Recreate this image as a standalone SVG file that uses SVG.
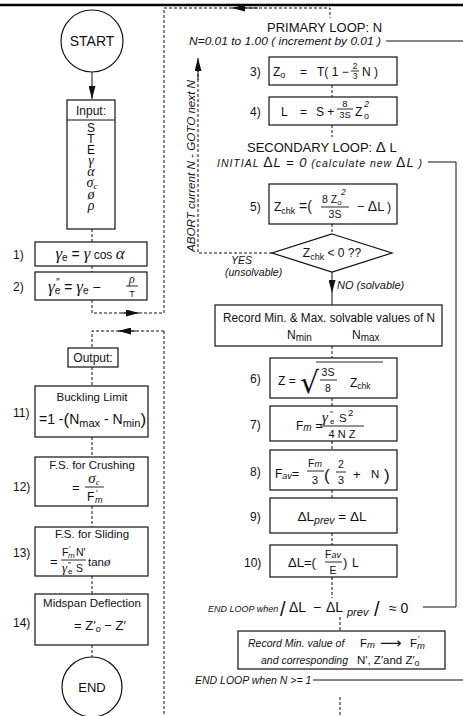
<svg xmlns="http://www.w3.org/2000/svg" width="463" height="716" viewBox="0 0 463 716">
<defs>
<marker id="ah" markerUnits="userSpaceOnUse" markerWidth="14" markerHeight="7" refX="13" refY="3.5" orient="auto">
<path d="M0,0 L13,3.5 L0,7 Z" fill="#111"/>
</marker>
<style>
.t{font-family:"Liberation Sans",Arial,sans-serif;fill:#111}
.i{font-style:italic}
.g{font-family:"Liberation Serif","DejaVu Serif",serif;font-style:italic;fill:#111}
.dj{font-family:"DejaVu Sans",sans-serif;fill:#111}
.m{text-anchor:middle}
.box{fill:#fff;stroke:#111;stroke-width:1.2}
.dl{fill:none;stroke:#111;stroke-width:1;stroke-dasharray:3 2}
.ln{fill:none;stroke:#111;stroke-width:1}
.fr{stroke:#111;stroke-width:0.9}
</style>
</defs>
<rect width="463" height="716" fill="#fff"/>
<line x1="0" y1="5" x2="463" y2="5" stroke="#000" stroke-width="2.5"/>

<g id="connectors">
<line class="ln" x1="92" y1="72" x2="92" y2="99" marker-end="url(#ah)"/>
<path class="dl" d="M92,229 V242"/>
<path class="dl" d="M92,266 V272"/>
<path class="dl" d="M92,300 V313 H164"/>
<line class="ln" x1="122" y1="313" x2="139" y2="313" marker-end="url(#ah)"/>
<path class="dl" d="M164,331 H92 V348"/>
<line class="ln" x1="136" y1="331" x2="118" y2="331" marker-end="url(#ah)"/>
<path class="dl" d="M92,367 V386"/>
<path class="dl" d="M92,437 V457"/>
<path class="dl" d="M92,506 V527"/>
<path class="dl" d="M92,576 V594"/>
<path class="dl" d="M92,645 V657"/>
<path class="dl" d="M164,313 V8 H330 V18"/>
<line class="ln" x1="258" y1="8" x2="232" y2="8" marker-end="url(#ah)"/>
<path class="dl" d="M164,331 V716"/>
<line class="ln" x1="386" y1="41" x2="463" y2="41"/>
<path class="dl" d="M332,85 V97"/>
<path class="dl" d="M332,125 V137"/>
<path class="ln" d="M428,162 H456 V607 H423"/>
<path class="dl" d="M332,224 V234"/>
<path class="dl" d="M272,253 H198 V64"/>
<line class="ln" x1="198" y1="80" x2="198" y2="58" marker-end="url(#ah)"/>
<text class="t i" font-size="11" transform="translate(195,252) rotate(-90)" textLength="172" lengthAdjust="spacingAndGlyphs">ABORT current N - GOTO next N</text>
<text class="t i" x="231" y="264" font-size="10.5">YES</text>
<text class="t i" x="225" y="276" font-size="10.5">(unsolvable)</text>
<line class="ln" x1="332" y1="272" x2="332" y2="293" marker-end="url(#ah)"/>
<line class="ln" x1="332" y1="293" x2="332" y2="305"/>
<text class="t i" x="337" y="289" font-size="11">NO (solvable)</text>
<path class="dl" d="M332,346 V358"/>
<path class="dl" d="M332,398 V406"/>
<path class="dl" d="M332,441 V450"/>
<path class="dl" d="M332,490 V498"/>
<path class="dl" d="M332,533 V545"/>
<path class="dl" d="M332,577 V598"/>
<path class="dl" d="M340,617 V631"/>
<line class="ln" x1="313" y1="680" x2="463" y2="680"/>
<path class="dl" d="M340,697 V716"/>
</g>

<g id="start">
<circle class="box" cx="92" cy="41" r="31"/>
<text class="t m" x="92" y="46" font-size="14">START</text>
</g>

<g id="input">
<rect class="box" x="67" y="100" width="48" height="129"/>
<line class="ln" x1="67" y1="120" x2="115" y2="120"/>
<text class="t m" x="91" y="115" font-size="12">Input:</text>
<text class="t m" x="91" y="132" font-size="12">S</text>
<text class="t m" x="91" y="143" font-size="12">T</text>
<text class="t m" x="91" y="154" font-size="12">E</text>
<text class="g m" x="91" y="165" font-size="14">γ</text>
<text class="g m" x="91" y="176" font-size="14">α</text>
<text class="g m" x="92" y="187" font-size="14">σ<tspan font-size="9" dy="2">c</tspan></text>
<text class="g m" x="91" y="199" font-size="14">ø</text>
<text class="g m" x="91" y="210" font-size="14">ρ</text>
</g>

<g id="step1">
<rect class="box" x="35" y="242" width="112" height="24"/>
<text class="t" x="13" y="259" font-size="12">1)</text>
<text class="t m" x="90" y="259" font-size="14"><tspan class="g" font-size="17">γ</tspan><tspan font-size="10" dy="2">e</tspan><tspan dy="-2"> = </tspan><tspan class="g" font-size="17">γ</tspan><tspan font-size="12"> cos </tspan><tspan class="g" font-size="17">α</tspan></text>
</g>

<g id="step2">
<rect class="box" x="35" y="272" width="112" height="28"/>
<text class="t" x="13" y="291" font-size="12">2)</text>
<text class="t" x="48" y="292" font-size="14"><tspan class="g" font-size="17">γ</tspan><tspan font-size="10" dy="2">e</tspan><tspan dy="-2"> = </tspan><tspan class="g" font-size="17">γ</tspan><tspan font-size="10" dy="2">e</tspan><tspan dy="-2">  − </tspan></text>
<text class="t" x="56" y="286" font-size="10">″</text>
<text class="g m" x="132" y="283" font-size="12">ρ</text>
<line class="fr" x1="126" y1="286" x2="138" y2="286"/>
<text class="t m" x="132" y="297" font-size="9">T</text>
</g>

<g id="output">
<rect class="box" x="68" y="348" width="50" height="19"/>
<text class="t m" x="93" y="362" font-size="12">Output:</text>
</g>

<g id="step11">
<rect class="box" x="35" y="386" width="113" height="51"/>
<text class="t" x="13" y="417" font-size="12">11)</text>
<text class="t m" x="92" y="401" font-size="11.5">Buckling Limit</text>
<text class="t" x="39" y="424" font-size="14">=1 -<tspan font-size="17" dy="1">(</tspan><tspan dy="-1">N</tspan><tspan font-size="11" dy="3">max</tspan><tspan dy="-3"> - N</tspan><tspan font-size="11" dy="3">min</tspan><tspan font-size="17" dy="-2">)</tspan></text>
</g>

<g id="step12">
<rect class="box" x="35" y="457" width="113" height="49"/>
<text class="t" x="13" y="491" font-size="12">12)</text>
<text class="t m" x="92" y="469" font-size="11.5">F.S. for Crushing</text>
<text class="t" x="72" y="492" font-size="13">=</text>
<text class="g m" x="94" y="483" font-size="15">σ<tspan font-size="9" dy="2">c</tspan></text>
<line class="fr" x1="85" y1="487" x2="104" y2="487"/>
<text class="t" x="87" y="501" font-size="12">F</text>
<text class="t" x="96" y="496" font-size="9">′</text>
<text class="t i" x="95" y="503" font-size="9">m</text>
</g>

<g id="step13">
<rect class="box" x="35" y="527" width="113" height="49"/>
<text class="t" x="13" y="557" font-size="12">13)</text>
<text class="t m" x="92" y="538" font-size="11.5">F.S. for Sliding</text>
<text class="t" x="50" y="566" font-size="13">=</text>
<text class="t" x="62" y="556" font-size="10.5">F</text>
<text class="t" x="69" y="551" font-size="8">′</text>
<text class="t i" x="68" y="558" font-size="8">m</text>
<text class="t" x="76" y="556" font-size="10.5">N′</text>
<line class="fr" x1="61" y1="560" x2="86" y2="560"/>
<text class="g" x="62" y="572" font-size="13">γ</text>
<text class="t" x="68" y="567" font-size="8">″</text>
<text class="t" x="68" y="574" font-size="8">e</text>
<text class="t" x="76" y="572" font-size="10.5">S</text>
<text class="t" x="88" y="566" font-size="11.5">tan<tspan class="g" font-size="13">ø</tspan></text>
</g>

<g id="step14">
<rect class="box" x="35" y="594" width="113" height="51"/>
<text class="t" x="13" y="627" font-size="12">14)</text>
<text class="t m" x="92" y="607" font-size="11.5">Midspan Deflection</text>
<text class="t m" x="100" y="630" font-size="13">= Z′<tspan class="i" font-size="9" dy="2">o</tspan><tspan dy="-2"> − Z′</tspan></text>
</g>

<g id="end">
<circle class="box" cx="92" cy="687" r="30"/>
<text class="t m" x="92" y="692" font-size="13">END</text>
</g>

<g id="primary-loop">
<text class="t" x="267" y="32" font-size="13">PRIMARY LOOP: N</text>
<text class="t i" x="189" y="45" font-size="10" textLength="192" lengthAdjust="spacingAndGlyphs">N=0.01 to 1.00  ( increment by 0.01 )</text>
</g>

<g id="step3">
<rect class="box" x="269" y="57" width="128" height="28"/>
<text class="t" x="250" y="76" font-size="12">3)</text>
<text class="t" x="273" y="76" font-size="12">Z<tspan font-size="9" dy="2">o</tspan></text>
<text class="t" x="300" y="76" font-size="12">=</text>
<text class="t" x="317" y="76" font-size="12">T( 1 −</text>
<text class="t m" x="355" y="69" font-size="8.5">2</text>
<line class="fr" x1="351" y1="71" x2="359" y2="71"/>
<text class="t m" x="355" y="79" font-size="8.5">3</text>
<text class="t" x="362" y="76" font-size="12">N )</text>
</g>

<g id="step4">
<rect class="box" x="269" y="97" width="128" height="28"/>
<text class="t" x="250" y="116" font-size="12">4)</text>
<text class="t" x="281" y="116" font-size="12">L</text>
<text class="t" x="300" y="116" font-size="12">=</text>
<text class="t" x="316" y="116" font-size="12">S +</text>
<text class="t m" x="345" y="107" font-size="9.5">8</text>
<line class="fr" x1="337" y1="109" x2="353" y2="109"/>
<text class="t m" x="345" y="118" font-size="9.5">3S</text>
<text class="t" x="355" y="116" font-size="12">Z</text>
<text class="t i" x="364" y="107" font-size="9">2</text>
<text class="t" x="364" y="119" font-size="9">o</text>
</g>

<g id="secondary-loop">
<text class="t" x="247" y="152" font-size="13">SECONDARY LOOP:  <tspan font-size="15">Δ</tspan> L</text>
<text class="t i" x="217" y="167" font-size="10.5" textLength="205" lengthAdjust="spacing">INITIAL <tspan font-size="14" font-style="normal">Δ</tspan><tspan font-size="13">L = 0</tspan>  (calculate new  <tspan font-size="14" font-style="normal">Δ</tspan><tspan font-size="13">L</tspan> )</text>
</g>

<g id="step5">
<rect class="box" x="269" y="184" width="128" height="40"/>
<text class="t" x="250" y="211" font-size="12">5)</text>
<text class="t" x="274" y="211" font-size="12">Z<tspan font-size="9" dy="3">chk</tspan></text>
<text class="t" x="299" y="211" font-size="14">=(</text>
<text class="t" x="322" y="203" font-size="10.5">8 Z<tspan font-size="8" dy="2">o</tspan></text>
<text class="t i" x="341" y="195" font-size="8.5">2</text>
<line class="fr" x1="321" y1="207" x2="349" y2="207"/>
<text class="t m" x="335" y="218" font-size="10.5">3S</text>
<text class="t" x="357" y="211" font-size="12.5">−  <tspan font-size="14">Δ</tspan>L )</text>
</g>

<g id="decision">
<polygon class="box" points="332,234 392,253 332,272 272,253"/>
<text class="t m" x="332" y="257" font-size="12">Z<tspan font-size="9" dy="3">chk</tspan><tspan dy="-3"> &lt; 0  ??</tspan></text>
</g>

<g id="record-nminmax">
<rect class="box" x="215" y="305" width="227" height="41"/>
<text class="t m" x="329" y="322" font-size="12" textLength="212" lengthAdjust="spacingAndGlyphs">Record Min. &amp; Max. solvable values of N</text>
<text class="t" x="287" y="339" font-size="12">N<tspan font-size="10" dy="2">min</tspan></text>
<text class="t" x="352" y="339" font-size="12">N<tspan font-size="10" dy="2">max</tspan></text>
</g>

<g id="step6">
<rect class="box" x="270" y="358" width="127" height="40"/>
<text class="t" x="250" y="383" font-size="12">6)</text>
<text class="t" x="278" y="385" font-size="12">Z =</text>
<text class="dj" x="300" y="393" font-size="30">√</text>
<line class="fr" x1="316" y1="362" x2="383" y2="362"/>
<text class="t m" x="328" y="376" font-size="10.5">3S</text>
<line class="fr" x1="320" y1="380" x2="337" y2="380"/>
<text class="t m" x="328" y="392" font-size="10.5">8</text>
<text class="t" x="350" y="387" font-size="12">Z<tspan font-size="8.5" dy="2">chk</tspan></text>
</g>

<g id="step7">
<rect class="box" x="270" y="406" width="127" height="35"/>
<text class="t" x="250" y="429" font-size="12">7)</text>
<text class="t" x="296" y="430" font-size="12">F<tspan class="i" font-size="10" dy="1">m</tspan><tspan dy="-1" font-size="13"> =</tspan></text>
<text class="g" x="322" y="422" font-size="15">γ</text>
<text class="t" x="330" y="416" font-size="8">″</text>
<text class="t" x="330" y="424" font-size="8">e</text>
<text class="t" x="339" y="422" font-size="11.5">S</text>
<text class="t" x="348" y="416" font-size="9.5">2</text>
<line class="fr" x1="320" y1="426" x2="364" y2="426"/>
<text class="t m" x="342" y="438" font-size="11">4 N Z</text>
</g>

<g id="step8">
<rect class="box" x="270" y="450" width="127" height="40"/>
<text class="t" x="250" y="476" font-size="12">8)</text>
<text class="t" x="275" y="478" font-size="12">F<tspan class="i" font-size="9" dy="1">av</tspan><tspan dy="-1" font-size="13">=</tspan></text>
<text class="t m" x="315" y="467" font-size="10.5">F<tspan class="i" font-size="9">m</tspan></text>
<line class="fr" x1="307" y1="471" x2="324" y2="471"/>
<text class="t m" x="315" y="484" font-size="11.5">3</text>
<text class="t" x="324" y="481" font-size="17">(</text>
<text class="t m" x="341" y="468" font-size="10.5">2</text>
<line class="fr" x1="336" y1="472" x2="346" y2="472"/>
<text class="t m" x="341" y="484" font-size="11.5">3</text>
<text class="t" x="353" y="479" font-size="13">+</text>
<text class="t" x="371" y="478" font-size="11.5">N</text>
<text class="t" x="384" y="481" font-size="17">)</text>
</g>

<g id="step9">
<rect class="box" x="270" y="498" width="127" height="35"/>
<text class="t" x="250" y="521" font-size="12">9)</text>
<text class="t m" x="332" y="521" font-size="13.5">ΔL<tspan class="i" font-size="10.5" dy="3">prev</tspan><tspan dy="-3"> = ΔL</tspan></text>
</g>

<g id="step10">
<rect class="box" x="270" y="545" width="127" height="32"/>
<text class="t" x="244" y="567" font-size="12">10)</text>
<text class="t" x="288" y="567" font-size="13">ΔL=(</text>
<text class="t m" x="333" y="558" font-size="10.5">F<tspan class="i" font-size="9">av</tspan></text>
<line class="fr" x1="325" y1="562" x2="342" y2="562"/>
<text class="t m" x="333" y="574" font-size="10.5">E</text>
<text class="t" x="343" y="567" font-size="13">)</text>
<text class="t" x="352" y="567" font-size="12">L</text>
</g>

<g id="end-secondary">
<text class="t i" x="208" y="612" font-size="9">END LOOP when</text>
<text class="t" x="280" y="616" font-size="20">/</text>
<text class="t" x="289" y="612" font-size="14">ΔL</text>
<text class="t" x="313" y="612" font-size="14">−</text>
<text class="t" x="326" y="612" font-size="14">ΔL</text>
<text class="t i" x="347" y="616" font-size="11">prev</text>
<text class="t" x="374" y="616" font-size="20">/</text>
<text class="t" x="389" y="613" font-size="14">≈ 0</text>
</g>

<g id="record-min">
<rect class="box" x="238" y="631" width="207" height="38"/>
<text class="t i" x="248" y="647" font-size="10.5">Record Min. value of</text>
<text class="t" x="360" y="647" font-size="11.5">F<tspan class="i" font-size="9.5" dy="1">m</tspan></text>
<text class="dj" x="380" y="648" font-size="15">⟶</text>
<text class="t" x="410" y="647" font-size="11.5">F</text>
<text class="t" x="418" y="642" font-size="9">′</text>
<text class="t i" x="417" y="649" font-size="9.5">m</text>
<text class="t i" x="261" y="664" font-size="10.5">and corresponding</text>
<text class="t" x="357" y="664" font-size="11.5">N′, Z′and Z′<tspan font-size="9" dy="2">o</tspan></text>
</g>

<g id="end-primary">
<text class="t i" x="195" y="684" font-size="10.5">END LOOP when N &gt;= 1</text>
</g>
</svg>
